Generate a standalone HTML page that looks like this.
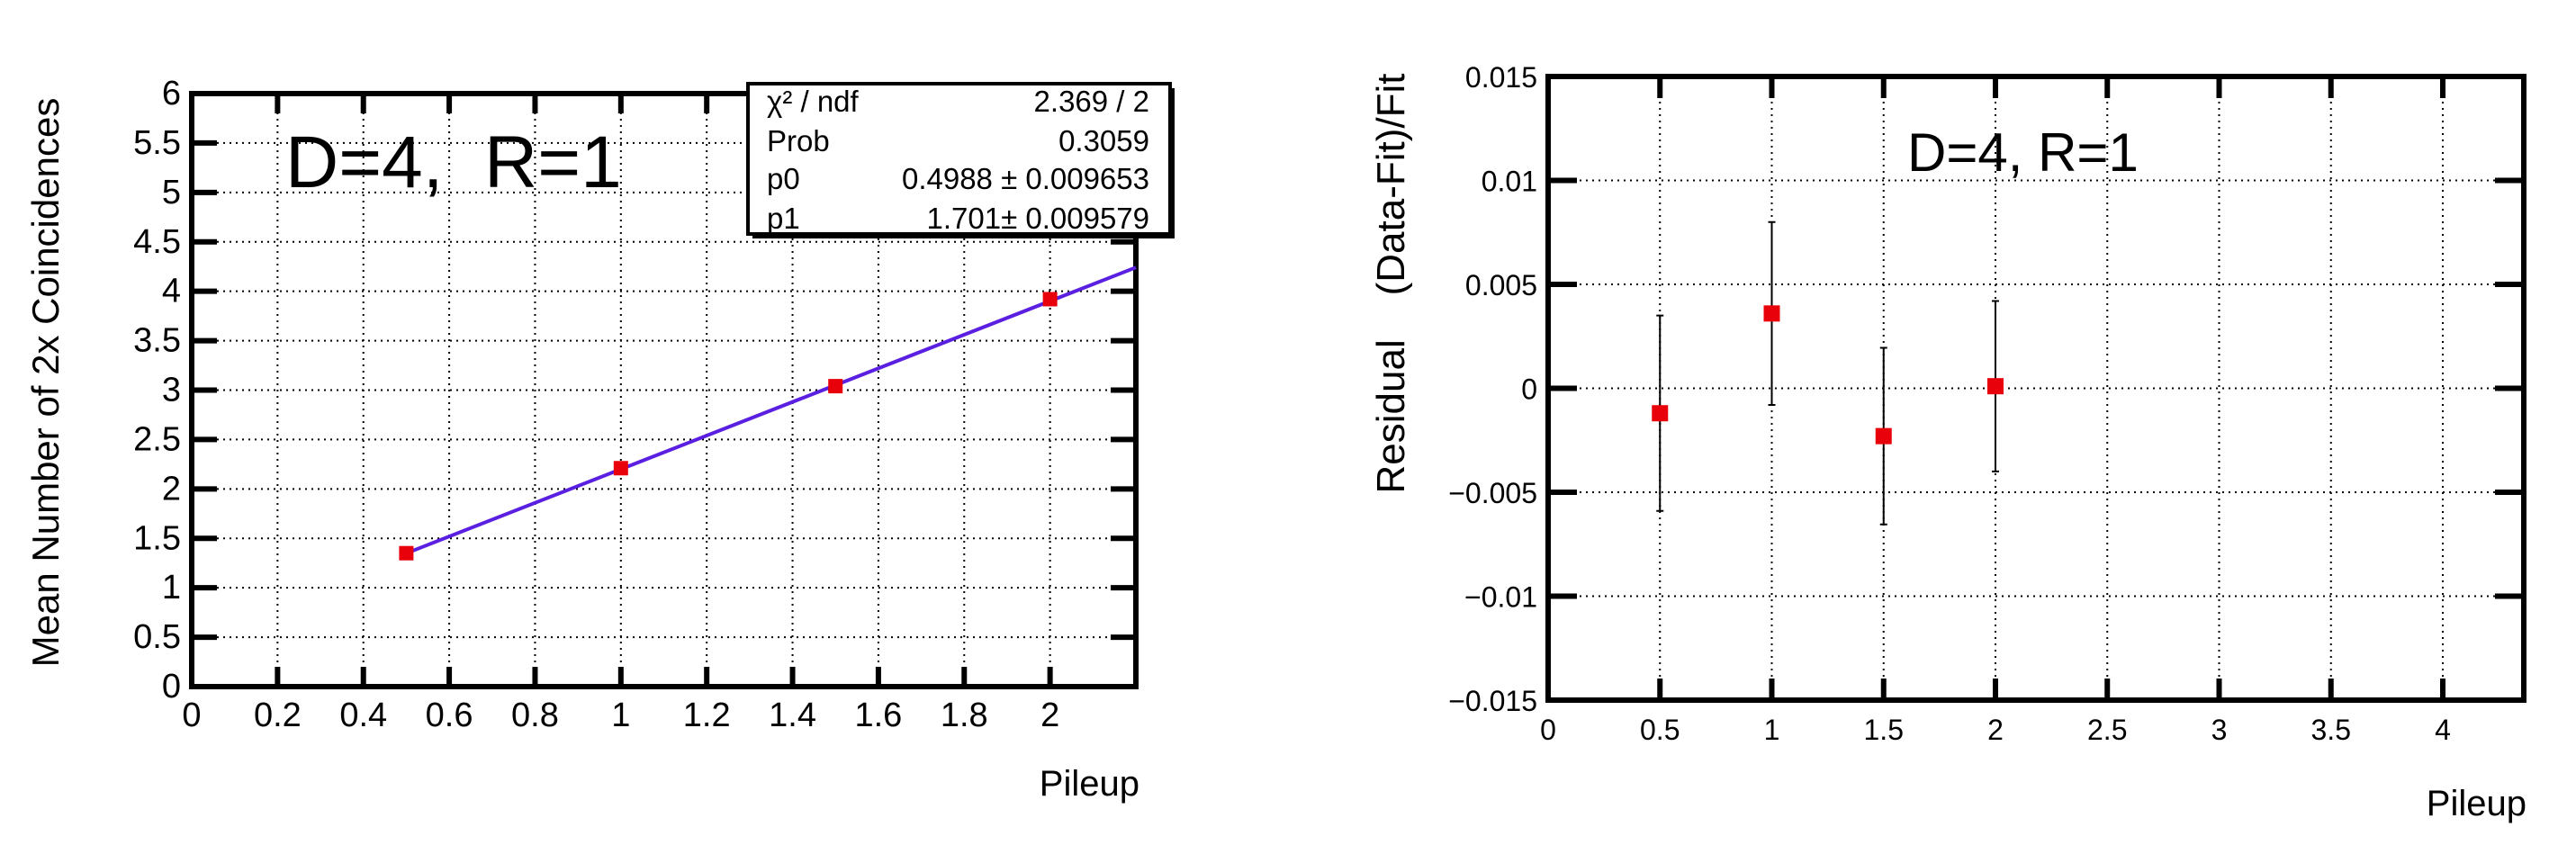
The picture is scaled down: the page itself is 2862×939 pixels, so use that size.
<!DOCTYPE html>
<html><head><meta charset="utf-8"><style>
html,body{margin:0;padding:0;background:#fff;}
svg{display:block;font-family:"Liberation Sans",sans-serif;}
</style></head><body>
<svg id="s" width="2862" height="939" viewBox="0 0 2862 939" xmlns="http://www.w3.org/2000/svg">
<rect width="2862" height="939" fill="#fff"/>
<g id="left"></g>
<g id="right"></g>
</svg>
<script>
// Left panel data
const fitX = [0.5, 1, 1.5, 2];
const fitY = [1.35, 2.21, 3.04, 3.92];
const fitP0 = 0.4988;
const fitP1 = 1.701;
const leftXTicks = [0,0.2,0.4,0.6,0.8,1,1.2,1.4,1.6,1.8,2];
const leftXTickLabels = ["0","0.2","0.4","0.6","0.8","1","1.2","1.4","1.6","1.8","2"];
const leftYTicks = [0,0.5,1,1.5,2,2.5,3,3.5,4,4.5,5,5.5,6];
const leftYTickLabels = ["0","0.5","1","1.5","2","2.5","3","3.5","4","4.5","5","5.5","6"];
// Right panel data
const resX = [0.5, 1, 1.5, 2];
const resY = [-0.0012, 0.0036, -0.0023, 0.0001];
const resErr = [0.0047, 0.0044, 0.00425, 0.0041];
const rightXTicks = [0,0.5,1,1.5,2,2.5,3,3.5,4];
const rightXTickLabels = ["0","0.5","1","1.5","2","2.5","3","3.5","4"];
const rightYTicks = [-0.015,-0.01,-0.005,0,0.005,0.01,0.015];
const rightYTickLabels = ["\u22120.015","\u22120.01","\u22120.005","0","0.005","0.01","0.015"];

const NS="http://www.w3.org/2000/svg";
function mk(parent,tag,attrs,text){const e=document.createElementNS(NS,tag);for(const k in attrs)e.setAttribute(k,attrs[k]);if(text!==undefined)e.textContent=text;parent.appendChild(e);return e;}

function frame(g,L,R,T,B,xs,ys,xt,xl,yt,yl,xtl,ytl,fs){
  xt.forEach((v,i)=>{const x=xs(v);if(x>L+3&&x<R-3){const l=mk(g,'line',{x1:x,x2:x,y1:T,y2:B,stroke:'#000','stroke-width':2,'stroke-dasharray':'2,5'});

}});
  yt.forEach((v,i)=>{const y=ys(v);if(y>T+3&&y<B-3){const l=mk(g,'line',{x1:L,x2:R,y1:y,y2:y,stroke:'#000','stroke-width':2,'stroke-dasharray':'2,5'});

}});
  xt.forEach((v,i)=>{const x=xs(v);
    const a=mk(g,'line',{x1:x,x2:x,y1:B,y2:B-xtl,stroke:'#000','stroke-width':6});


    const b=mk(g,'line',{x1:x,x2:x,y1:T,y2:T+xtl,stroke:'#000','stroke-width':6});


    const t=mk(g,'text',{x:x,y:B+44,'font-size':fs,'text-anchor':'middle'},xl[i]);

});
  yt.forEach((v,i)=>{const y=ys(v);
    const a=mk(g,'line',{x1:L,x2:L+ytl,y1:y,y2:y,stroke:'#000','stroke-width':6});


    const b=mk(g,'line',{x1:R,x2:R-ytl,y1:y,y2:y,stroke:'#000','stroke-width':6});


    const t=mk(g,'text',{x:L-12,y:y+12,'font-size':fs,'text-anchor':'end'},yl[i]);

});
  const f=mk(g,'rect',{x:L,y:T,width:R-L,height:B-T,fill:'none',stroke:'#000','stroke-width':6});


}

// LEFT
(function(){
  const g=document.getElementById('left');
  const L=213,R=1262,T=104,B=763,xmin=0,xmax=2.2,ymin=0,ymax=6;
  const xs=v=>L+(v-xmin)/(xmax-xmin)*(R-L), ys=v=>B-(v-ymin)/(ymax-ymin)*(B-T);
  frame(g,L,R,T,B,xs,ys,leftXTicks,leftXTickLabels,leftYTicks,leftYTickLabels,22,28,38);
  const line=mk(g,'line',{x1:xs(0.5),y1:ys(fitP0+fitP1*0.5),x2:xs(xmax),y2:ys(fitP0+fitP1*xmax),stroke:'#5a1fe0','stroke-width':4});


  fitX.forEach((v,i)=>{const m=mk(g,'rect',{x:xs(v)-8,y:ys(fitY[i])-8,width:16,height:16,fill:'#e8000b'});

});
  const tl=mk(g,'text',{x:317,y:208,'font-size':82,style:'white-space:pre'},'D=4,  R=1');


  const sb=mk(g,'g',{});


  mk(sb,'rect',{x:836,y:98,width:469,height:167,fill:'#000'});
  mk(sb,'rect',{x:831,y:93,width:469,height:167,fill:'#fff',stroke:'#000','stroke-width':4});
  const rows=[["\u03c7\u00b2 / ndf","2.369 / 2"],["Prob","0.3059"],["p0","0.4988 \u00b1 0.009653"],["p1","1.701\u00b1 0.009579"]];
  const bl=[124,168,210,254];
  rows.forEach((r,i)=>{
    const a=mk(sb,'text',{x:852,y:bl[i],'font-size':33},r[0]);


    const b=mk(sb,'text',{x:1277,y:bl[i],'font-size':33,'text-anchor':'end'},r[1]);

});
  const yt=mk(g,'text',{x:0,y:0,'font-size':42,'text-anchor':'middle',transform:'translate(65,425) rotate(-90)'},'Mean Number of 2x Coincidences');


  const xt=mk(g,'text',{x:1266,y:884,'font-size':40,'text-anchor':'end'},'Pileup');


})();

// RIGHT
(function(){
  const g=document.getElementById('right');
  const L=1720,R=2804,T=85,B=778,xmin=0,xmax=(2804-1720)/248.5,ymin=-0.015,ymax=0.015;
  const xs=v=>L+(v-xmin)/(xmax-xmin)*(R-L), ys=v=>B-(v-ymin)/(ymax-ymin)*(B-T);
  frame(g,L,R,T,B,xs,ys,rightXTicks,rightXTickLabels,rightYTicks,rightYTickLabels,24,32,32);
  resX.forEach((v,i)=>{const x=xs(v),y1=ys(resY[i]+resErr[i]),y2=ys(resY[i]-resErr[i]);
    const e=mk(g,'path',{d:`M${x},${y1}V${y2}M${x-4},${y1}H${x+4}M${x-4},${y2}H${x+4}`,stroke:'#000','stroke-width':2,fill:'none'});


    const m=mk(g,'rect',{x:x-9,y:ys(resY[i])-9,width:18,height:18,fill:'#e8000b'});

});
  const tl=mk(g,'text',{x:2119,y:190,'font-size':60},'D=4, R=1');


  const yt=mk(g,'text',{x:0,y:0,'font-size':44,'text-anchor':'middle',transform:'translate(1560,315) rotate(-90)',style:'white-space:pre'},'Residual    (Data-Fit)/Fit');


  const xt=mk(g,'text',{x:2807,y:906,'font-size':40,'text-anchor':'end'},'Pileup');


})();
</script>
</body></html>
